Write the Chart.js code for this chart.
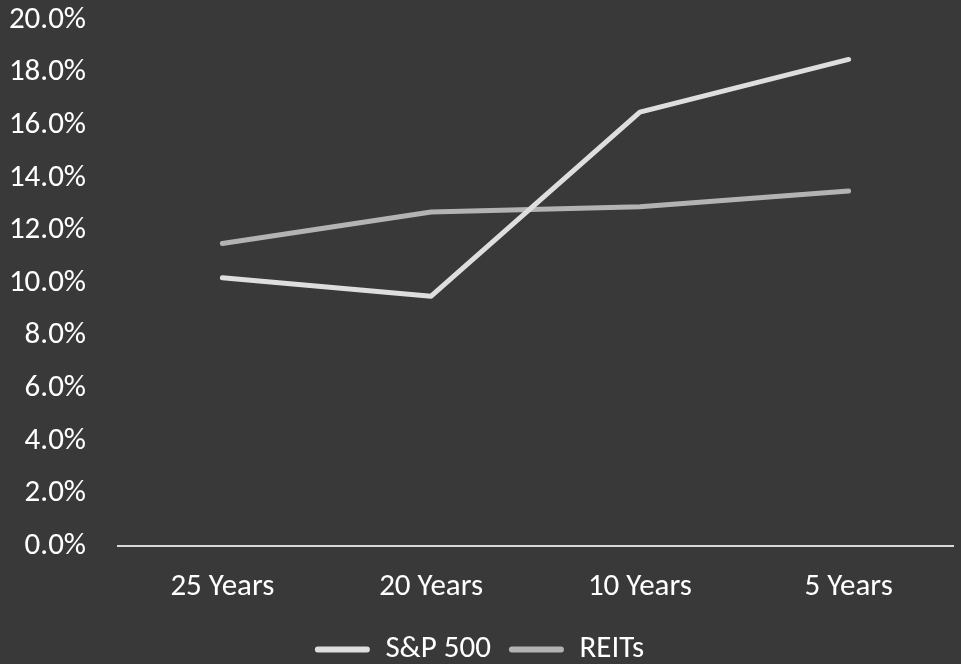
<!DOCTYPE html>
<html>
<head>
<meta charset="utf-8">
<script src="https://cdn.jsdelivr.net/npm/chart.js@4/dist/chart.umd.min.js"></script>
<style>
  html, body { margin: 0; padding: 0; background: #393939; }
  #wrap { width: 961px; height: 664px; }
</style>
</head>
<body>
<div id="wrap"><canvas id="c" width="961" height="664"></canvas></div>
<script>
// Annualized returns by holding period
const periods = ['25 Years', '20 Years', '10 Years', '5 Years'];
const sp500 = [10.2, 9.5, 16.5, 18.5];
const reits = [11.5, 12.7, 12.9, 13.5];
const yTicks = [0, 2, 4, 6, 8, 10, 12, 14, 16, 18, 20];

const FONT = 'Carlito, Lato, sans-serif';
const FONT_SIZE = 31;
const TEXT = '#ffffff';

new Chart(document.getElementById('c'), {
  type: 'line',
  data: {
    labels: periods,
    datasets: [
      { label: 'S&P 500', data: sp500, borderColor: '#dedede', backgroundColor: '#dedede',
        borderWidth: 5, pointRadius: 0, borderCapStyle: 'round', borderJoinStyle: 'round', tension: 0 },
      { label: 'REITs', data: reits, borderColor: '#b3b3b3', backgroundColor: '#b3b3b3',
        borderWidth: 5, pointRadius: 0, borderCapStyle: 'round', borderJoinStyle: 'round', tension: 0 }
    ]
  },
  options: {
    responsive: false,
    animation: false,
    layout: { padding: { left: 6, right: 8, top: 20, bottom: -11 } },
    plugins: {
      tooltip: { enabled: false },
      legend: {
        position: 'bottom',
        labels: {
          color: TEXT,
          font: { family: FONT, size: FONT_SIZE },
          boxWidth: 55,
          boxHeight: 6,
          useBorderRadius: true,
          borderRadius: 3,
          padding: 18,
          // flat legend swatches: fill only, no outline
          generateLabels: (chart) =>
            Chart.defaults.plugins.legend.labels.generateLabels(chart)
              .map(item => ({ ...item, lineWidth: 0, strokeStyle: 'transparent' }))
        }
      }
    },
    scales: {
      x: {
        offset: true,
        grid: { display: false, drawTicks: false },
        border: { display: true, color: '#d9d9d9', width: 2 },
        ticks: { color: TEXT, font: { family: FONT, size: FONT_SIZE }, padding: 23, maxRotation: 0 },
        afterFit: (s) => { s.height = 70; s.paddingLeft = 0; s.paddingRight = 0; }
      },
      y: {
        min: 0, max: 20,
        afterBuildTicks: (axis) => { axis.ticks = yTicks.map(v => ({ value: v })); },
        grid: { display: false, drawTicks: false },
        border: { display: false },
        ticks: {
          color: TEXT, font: { family: FONT, size: FONT_SIZE }, padding: 32,
          callback: (v) => v.toFixed(1) + '%'
        },
        afterFit: (s) => { s.width = 112; s.paddingTop = 0; s.paddingBottom = 0; }
      }
    }
  }
});
</script>
</body>
</html>
